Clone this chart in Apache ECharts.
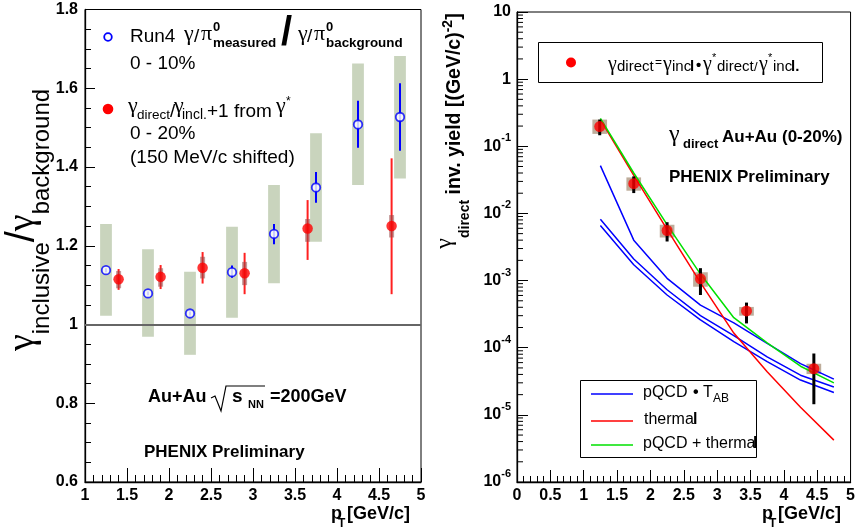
<!DOCTYPE html>
<html><head><meta charset="utf-8">
<script src="https://cdn.jsdelivr.net/npm/echarts/dist/echarts.min.js"></script>
<style>html,body{margin:0;padding:0;background:#fff}#c{width:858px;height:529px}</style>
</head><body><div id="c"></div>
<script>
// ---------------- Left panel data: gamma_inclusive / gamma_background ----------------
const runPt      = [1.25, 1.75, 2.25, 2.75, 3.25, 3.75, 4.25, 4.75];
const runVal     = [1.138, 1.079, 1.028, 1.133, 1.230, 1.348, 1.508, 1.527];
const runStatLo  = [1.133, 1.074, 1.023, 1.119, 1.204, 1.309, 1.449, 1.441];
const runStatHi  = [1.143, 1.084, 1.033, 1.150, 1.255, 1.387, 1.568, 1.613];
const runSysLo   = [1.022, 0.969, 0.923, 1.017, 1.105, 1.210, 1.354, 1.371];
const runSysHi   = [1.255, 1.191, 1.134, 1.248, 1.354, 1.486, 1.663, 1.682];

const gsPt       = [1.40, 1.90, 2.40, 2.90, 3.65, 4.65];
const gsVal      = [1.115, 1.121, 1.144, 1.130, 1.244, 1.250];
const gsStatLo   = [1.088, 1.090, 1.104, 1.077, 1.164, 1.077];
const gsStatHi   = [1.141, 1.151, 1.184, 1.182, 1.316, 1.422];
const gsSysLo    = [1.092, 1.096, 1.117, 1.100, 1.210, 1.221];
const gsSysHi    = [1.136, 1.143, 1.172, 1.159, 1.268, 1.278];

// ---------------- Right panel data: direct photon invariant yield ----------------
const dirPt      = [1.24, 1.75, 2.25, 2.75, 3.44, 4.45];
const dirVal     = [0.197, 0.0277, 0.00557, 0.00106, 0.000353, 4.86e-5];
const dirErrLo   = [0.146, 0.0201, 0.00382, 0.00061, 0.00023, 1.44e-5];
const dirErrHi   = [0.250, 0.0356, 0.0074, 0.00153, 0.00047, 8.2e-5];
const dirSysLo   = [0.153, 0.0218, 0.00438, 0.00081, 0.00030, 4.05e-5];
const dirSysHi   = [0.250, 0.0344, 0.00678, 0.00133, 0.000405, 5.77e-5];

const curvePt    = [1.25, 1.75, 2.25, 2.75, 3.25, 3.75, 4.25, 4.75];
const pqcdHigh   = [0.0515, 0.0040, 0.00108, 0.00043, 0.000235, 0.000116, 5.8e-5, 3.4e-5];
const pqcdMid    = [0.0082, 0.0021, 0.00073, 0.00030, 0.000151, 7.3e-5, 3.9e-5, 2.6e-5];
const pqcdLow    = [0.0066, 0.00172, 0.00061, 0.00026, 0.000123, 6.2e-5, 3.3e-5, 2.15e-5];
const thermal    = [0.25, 0.037, 0.0058, 0.00093, 0.000165, 4.4e-5, 1.3e-5, 4.2e-6];
const pqcdTherm  = [0.26, 0.040, 0.0068, 0.00125, 0.00028, 0.000118, 5.3e-5, 3.0e-5];

const SANS = 'Liberation Sans', SERIF = 'Liberation Serif';

function zip(xs) { const rest = Array.prototype.slice.call(arguments, 1); return xs.map((x, i) => [x].concat(rest.map(a => a[i]))); }

function vbar(color, width) {
  return function (params, api) {
    const x = api.value(0);
    const p1 = api.coord([x, api.value(1)]), p2 = api.coord([x, api.value(2)]);
    return { type: 'line', shape: { x1: p1[0], y1: p1[1], x2: p2[0], y2: p2[1] }, style: { stroke: color, lineWidth: width } };
  };
}
function boxR(color, halfW) {
  return function (params, api) {
    const x = api.value(0);
    const a = api.coord([x - halfW, api.value(2)]), b = api.coord([x + halfW, api.value(1)]);
    return { type: 'rect', shape: { x: a[0], y: a[1], width: b[0] - a[0], height: b[1] - a[1] }, style: { fill: color } };
  };
}

// log minor ticks (2..9 per decade) for the right y axis
const logMinor = [];
for (let e = -6; e < 1; e++) for (let m = 2; m <= 9; m++) logMinor.push(m * Math.pow(10, e));

function txt(x, base, text, size, extra) {
  return { type: 'text', x: x, y: base - 0.3465 * size, silent: true,
    style: Object.assign({ text: text, fontSize: size, fontFamily: SANS, fill: '#000', align: 'left', verticalAlign: 'middle' }, extra || {}) };
}
const B = { fontWeight: 'bold' };
const G = { fontFamily: SERIF };

const axisCommon = (len, mlen, split) => ({
  axisLine: { show: true, onZero: false, lineStyle: { color: '#000', width: 1.3 } },
  axisTick: { show: true, inside: true, length: len, lineStyle: { color: '#000', width: 1 } },
  minorTick: { show: split > 0, splitNumber: split || 5, length: mlen, lineStyle: { color: '#000', width: 1 } },
  splitLine: { show: false },
  axisLabel: { color: '#000', fontSize: 16, fontWeight: 'bold', fontFamily: SANS, margin: 6 }
});

const option = {
  animation: false,
  backgroundColor: '#fff',
  grid: [
    { left: 85, right: 437, top: 9.5, bottom: 47, show: true, borderColor: '#000', borderWidth: 1, backgroundColor: 'transparent' },
    { left: 517, right: 5, top: 12, bottom: 47, show: true, borderColor: '#000', borderWidth: 1, backgroundColor: 'transparent' }
  ],
  xAxis: [
    Object.assign({ type: 'value', gridIndex: 0, min: 1, max: 5, interval: 0.5 }, axisCommon(14, 7, 5)),
    Object.assign({ type: 'value', gridIndex: 1, min: 0, max: 5, interval: 0.5 }, axisCommon(12, 6, 5))
  ],
  yAxis: [
    Object.assign({ type: 'value', gridIndex: 0, min: 0.6, max: 1.8, interval: 0.2 }, axisCommon(10, 6, 4),
      { axisLabel: { color: '#000', fontSize: 16, fontWeight: 'bold', fontFamily: SANS, margin: 7 } }),
    Object.assign({ type: 'log', logBase: 10, gridIndex: 1, min: 1e-6, max: 10, splitNumber: 7 }, axisCommon(11, 6, 0),
      { axisLabel: { color: '#000', margin: 6,
          formatter: function (v) { const e = Math.round(Math.log10(v)); if (e === 1) return '{b|10}'; if (e === 0) return '{b|1}'; return '{b|10}{s|' + e + '}'; },
          rich: { b: { fontSize: 16, fontWeight: 'bold', fontFamily: SANS, color: '#000', verticalAlign: 'middle' },
                  s: { fontSize: 11, fontWeight: 'bold', fontFamily: SANS, color: '#000', padding: [0, 0, 16, 0], verticalAlign: 'middle' } } } })
  ],
  series: [
    // ---- left panel ----
    { type: 'custom', xAxisIndex: 0, yAxisIndex: 0, z: 1, renderItem: boxR('#c9d4bd', 0.07), data: zip(runPt, runSysLo, runSysHi) },
    { type: 'custom', xAxisIndex: 0, yAxisIndex: 0, z: 3, renderItem: vbar('#0000ff', 2), data: zip(runPt, runStatLo, runStatHi),
      markLine: { silent: true, symbol: ['none', 'none'], label: { show: false }, lineStyle: { color: '#666', width: 2, type: 'solid' }, data: [{ yAxis: 1 }] } },
    { type: 'custom', xAxisIndex: 0, yAxisIndex: 0, z: 3, renderItem: vbar('#ff2020', 2), data: zip(gsPt, gsStatLo, gsStatHi) },
    { type: 'custom', xAxisIndex: 0, yAxisIndex: 0, z: 3, renderItem: vbar('rgba(150,70,70,0.55)', 5), data: zip(gsPt, gsSysLo, gsSysHi) },
    { type: 'scatter', xAxisIndex: 0, yAxisIndex: 0, z: 5, symbol: 'circle', symbolSize: 8.5,
      itemStyle: { color: '#fff', borderColor: '#0000ff', borderWidth: 1.8 }, data: zip(runPt, runVal) },
    { type: 'scatter', xAxisIndex: 0, yAxisIndex: 0, z: 5, symbol: 'circle', symbolSize: 10.5,
      itemStyle: { color: '#ff0000' }, data: zip(gsPt, gsVal) },
    // ---- right panel ----
    { type: 'custom', xAxisIndex: 1, yAxisIndex: 1, z: 1, renderItem: boxR('#bead9b', 0.11), data: zip(dirPt, dirSysLo, dirSysHi) },
    { type: 'line', xAxisIndex: 1, yAxisIndex: 1, z: 3, showSymbol: false, lineStyle: { color: '#0000ff', width: 1.5 }, data: zip(curvePt, pqcdHigh) },
    { type: 'line', xAxisIndex: 1, yAxisIndex: 1, z: 3, showSymbol: false, lineStyle: { color: '#0000ff', width: 1.5 }, data: zip(curvePt, pqcdMid) },
    { type: 'line', xAxisIndex: 1, yAxisIndex: 1, z: 3, showSymbol: false, lineStyle: { color: '#0000ff', width: 1.5 }, data: zip(curvePt, pqcdLow) },
    { type: 'line', xAxisIndex: 1, yAxisIndex: 1, z: 3, showSymbol: false, lineStyle: { color: '#ff0000', width: 1.5 }, data: zip(curvePt, thermal) },
    { type: 'line', xAxisIndex: 1, yAxisIndex: 1, z: 3, showSymbol: false, lineStyle: { color: '#00e000', width: 1.5 }, data: zip(curvePt, pqcdTherm) },
    { type: 'custom', xAxisIndex: 1, yAxisIndex: 1, z: 4, renderItem: vbar('#000', 3), data: zip(dirPt, dirErrLo, dirErrHi) },
    { type: 'scatter', xAxisIndex: 1, yAxisIndex: 1, z: 5, symbol: 'circle', symbolSize: 11, itemStyle: { color: '#ff0000' }, data: zip(dirPt, dirVal) },
    { type: 'custom', xAxisIndex: 1, yAxisIndex: 1, z: 6, silent: true, clip: false,
      renderItem: function (params, api) { const p = api.coord([0, api.value(1)]); return { type: 'line', shape: { x1: p[0], y1: p[1], x2: p[0] + 6, y2: p[1] }, style: { stroke: '#000', lineWidth: 1 } }; },
      data: logMinor.map(v => [0, v]) }
  ],
  graphic: [
    // left y title
    { type: 'text', x: 23, y: 220, rotation: Math.PI / 2, silent: true,
      style: { text: '{g|γ}{s|inclusive}{sl|/}{g|γ}{s|background}', align: 'center', verticalAlign: 'middle',
        rich: { g: { fontFamily: SERIF, fontSize: 38, lineHeight: 40, fill: '#000', verticalAlign: 'middle' },
                s: { fontFamily: SANS, fontSize: 24, lineHeight: 24, padding: [38, 0, 0, 0], fill: '#000', verticalAlign: 'middle' },
                sl: { fontFamily: SANS, fontSize: 40, lineHeight: 40, fill: '#000', verticalAlign: 'middle' } } } },
    // right y title
    { type: 'text', x: 455, y: 131, rotation: Math.PI / 2, silent: true,
      style: { text: '{g|γ}{s|direct}{b| inv. yield [(GeV/c)}{p|-2}{b|]}', align: 'center', verticalAlign: 'middle',
        rich: { g: { fontFamily: SERIF, fontSize: 24, lineHeight: 24, padding: [0, 0, 20, 0], fill: '#000', verticalAlign: 'middle' },
                s: { fontFamily: SANS, fontWeight: 'bold', fontSize: 14, lineHeight: 14, padding: [20, 0, 0, 0], fill: '#000', verticalAlign: 'middle' },
                b: { fontFamily: SANS, fontWeight: 'bold', fontSize: 19.5, lineHeight: 22, fill: '#000', verticalAlign: 'middle' },
                p: { fontFamily: SANS, fontWeight: 'bold', fontSize: 14, lineHeight: 14, padding: [0, 0, 14, 0], fill: '#000', verticalAlign: 'middle' } } } },

    // left legend
    { type: 'circle', silent: true, shape: { cx: 108, cy: 37, r: 3.8 }, style: { fill: '#fff', stroke: '#0000ff', lineWidth: 1.8 } },
    txt(130, 43, 'Run4', 19),
    txt(184, 42, 'γ', 22, G), txt(194, 43, '/', 19), txt(201, 42, 'π', 22, G),
    txt(213, 32, '0', 13, B), txt(213, 48, 'measured', 13.4, B),
    txt(281, 48, '/', 40, B),
    txt(298, 42, 'γ', 22, G), txt(307, 43, '/', 19), txt(314, 42, 'π', 22, G),
    txt(326, 32, '0', 13, B), txt(326, 48, 'background', 13.4, B),
    txt(130, 70, '0 - 10%', 19),
    { type: 'circle', silent: true, shape: { cx: 108, cy: 109, r: 5.3 }, style: { fill: '#ff0000' } },
    txt(128, 114, 'γ', 22, G), txt(137, 120, 'direct', 13.5), txt(170, 118, '/', 19), txt(174, 114, 'γ', 22, G),
    txt(182, 120, 'incl.', 14), txt(207, 118, '+1 from', 19), txt(276, 114, 'γ', 22, G), txt(286, 106, '*', 12),
    txt(130, 140, '0 - 20%', 19),
    txt(130, 164, '(150 MeV/c shifted)', 19),

    // left annotations
    txt(148, 403, 'Au+Au', 18, B),
    { type: 'polyline', silent: true, shape: { points: [[211, 398], [215, 396], [221, 411], [226, 386], [265, 386]] }, style: { stroke: '#000', lineWidth: 1.2, fill: null } },
    txt(232, 403, 's', 19, B), txt(248, 409, 'NN', 11, B), txt(270, 403, '=200GeV', 18, B),
    txt(144, 458, 'PHENIX Preliminary', 17, B),
    txt(331, 520, 'p', 18, B), txt(338, 528, 'T', 12, B), txt(347, 520, '[GeV/c]', 18, B),

    // right top legend
    { type: 'rect', silent: true, shape: { x: 538.5, y: 42.5, width: 284, height: 40 }, style: { fill: '#fff', stroke: '#000', lineWidth: 1 }, z: 0 },
    { type: 'circle', silent: true, shape: { cx: 571, cy: 62.5, r: 5 }, style: { fill: '#ff0000' } },
    txt(608, 72, 'γ', 20, G), txt(617, 72, 'direct', 15), txt(655, 67, '=', 12),
    txt(663, 72, 'γ', 20, G), txt(672, 72, 'inc', 15), txt(690, 72, 'l', 15, B), txt(696, 71, '•', 15, B),
    txt(703, 72, 'γ', 20, G), txt(712, 62, '*', 11), txt(717, 72, 'direct', 15), txt(754, 72, '/', 13),
    txt(759, 72, 'γ', 20, G), txt(768, 62, '*', 11), txt(773, 72, 'inc', 15), txt(791, 72, 'l.', 15, B),

    // right annotations
    txt(669, 143, 'γ', 24, G), txt(683, 149, 'direct', 13, B), txt(722, 143, 'Au+Au (0-20%)', 17, B),
    txt(669, 183, 'PHENIX Preliminary', 17, B),
    txt(762, 520, 'p', 18, B), txt(769, 528, 'T', 12, B), txt(778, 520, '[GeV/c]', 18, B),

    // right bottom legend
    { type: 'rect', silent: true, shape: { x: 580.5, y: 380.5, width: 176, height: 77 }, style: { fill: '#fff', stroke: '#000', lineWidth: 1 } },
    { type: 'line', silent: true, shape: { x1: 591, y1: 394, x2: 633, y2: 394 }, style: { stroke: '#0000ff', lineWidth: 1.5 } },
    { type: 'line', silent: true, shape: { x1: 591, y1: 421, x2: 633, y2: 421 }, style: { stroke: '#ff0000', lineWidth: 1.5 } },
    { type: 'line', silent: true, shape: { x1: 591, y1: 445, x2: 633, y2: 445 }, style: { stroke: '#00e000', lineWidth: 1.5 } },
    txt(643, 398, 'pQCD', 16), txt(693, 398, '•', 16, B), txt(703, 398, 'T', 16), txt(713, 403, 'AB', 12),
    txt(644, 425, 'therma', 16), txt(693, 425, 'l', 16, B),
    txt(643, 449, 'pQCD + therma', 16), txt(753, 449, 'l', 16, B)
  ]
};
const chart = echarts.init(document.getElementById('c'), null, { renderer: 'canvas' });
chart.setOption(option);
</script></body></html>
